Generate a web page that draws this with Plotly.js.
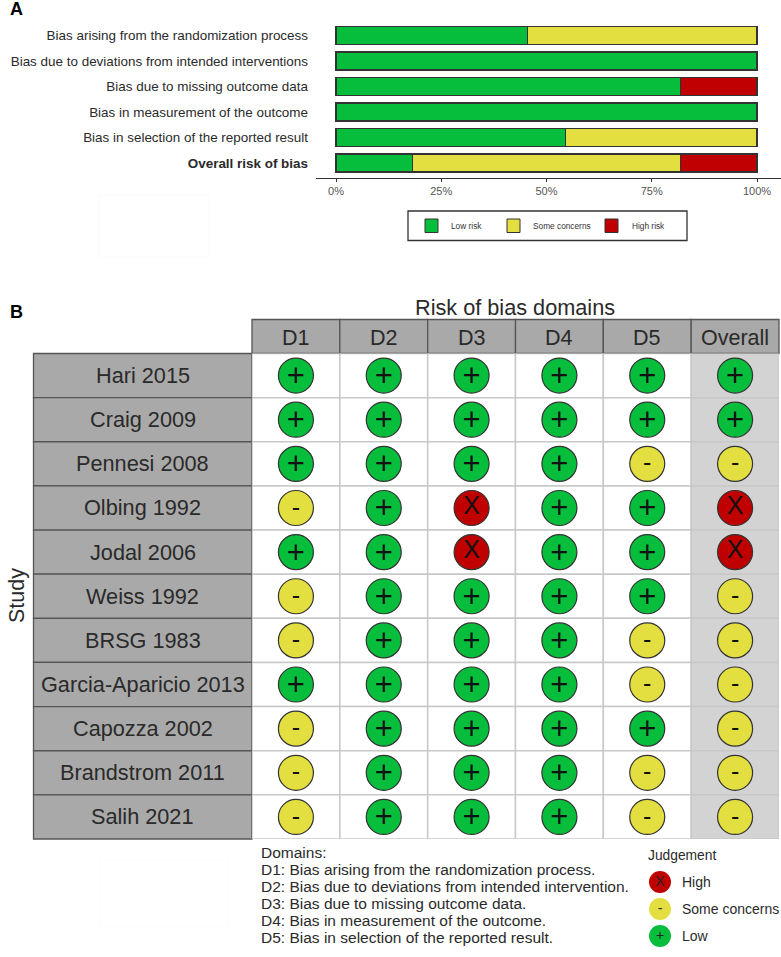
<!DOCTYPE html>
<html>
<head>
<meta charset="utf-8">
<script src="https://cdn.plot.ly/plotly-3.0.1.min.js"></script>
<style>html,body{margin:0;padding:0;background:#fff}#c{width:781px;height:957px}</style>
</head>
<body>
<div id="c"></div>
<script>
const W = 781, H = 957;
const FONT = '"Liberation Sans", Arial, sans-serif';
const GREEN = '#06BE3C', YELLOW = '#E3DF40', RED = '#C00000';

// Panel A data
const domainNames = ['Bias arising from the randomization process','Bias due to deviations from intended interventions','Bias due to missing outcome data','Bias in measurement of the outcome','Bias in selection of the reported result','<b>Overall risk of bias</b>'];
const lowRisk = [45.45, 100, 81.82, 100, 54.55, 18.18];
const someConcerns = [54.55, 0, 0, 0, 45.45, 63.64];
const highRisk = [0, 0, 18.18, 0, 0, 18.18];
const pctTicks = [0, 25, 50, 75, 100];
const pctLabels = ['0%','25%','50%','75%','100%'];

// Panel B data
const studies = ['Hari 2015','Craig 2009','Pennesi 2008','Olbing 1992','Jodal 2006','Weiss 1992','BRSG 1983','Garcia-Aparicio 2013','Capozza 2002','Brandstrom 2011','Salih 2021'];
const columns = ['D1','D2','D3','D4','D5','Overall'];
const D1 = ['+','+','+','-','+','-','-','+','-','-','-'];
const D2 = ['+','+','+','+','+','+','+','+','+','+','+'];
const D3 = ['+','+','+','X','X','+','+','+','+','+','+'];
const D4 = ['+','+','+','+','+','+','+','+','+','+','+'];
const D5 = ['+','+','-','+','+','+','-','-','+','-','-'];
const Overall = ['+','+','-','X','X','-','-','-','-','-','-'];
const domainLines = ['Domains:','D1: Bias arising from the randomization process.','D2: Bias due to deviations from intended intervention.','D3: Bias due to missing outcome data.','D4: Bias in measurement of the outcome.','D5: Bias in selection of the reported result.'];
const judgementLabels = ['High','Some concerns','Low'];
const judgementSymbols = ['X','-','+'];
const riskLabels = ['Low risk','Some concerns','High risk'];

const px = v => v / W, py = v => 1 - v / H;
const colour = s => s === '+' ? GREEN : s === '-' ? YELLOW : RED;
const symbolSize = s => s === '-' ? 25 : s === 'X' ? 25 : 31;
const symbolDy = s => s === '+' ? 0.062 : s === '-' ? 0.03 : 0.0;

const barOpts = (name, vals, col) => ({type:'bar', orientation:'h', name, x:vals, y:domainNames.map((_,i)=>i), width:0.7,
  marker:{color:col, line:{color:'#333', width:1.4}}, xaxis:'x', yaxis:'y', hoverinfo:'x+name', showlegend:false});
const traces = [
  barOpts('Low risk', lowRisk, GREEN),
  barOpts('Some concerns', someConcerns, YELLOW),
  barOpts('High risk', highRisk, RED)
];

const judgementColumns = [D1, D2, D3, D4, D5, Overall];
judgementColumns.forEach((col, c) => {
  traces.push({type:'scatter', mode:'markers', xaxis:'x2', yaxis:'y2', showlegend:false, cliponaxis:false,
    x:col.map(()=>c), y:col.map((_,r)=>r),
    marker:{size:35, color:col.map(colour), line:{color:'#333', width:1.2}},
    hoverinfo:'skip'});
  traces.push({type:'scatter', mode:'text', xaxis:'x2', yaxis:'y2', showlegend:false, cliponaxis:false,
    x:col.map(()=>c), y:col.map((s,r)=>r+symbolDy(s)), text:col,
    textposition:'middle center', textfont:{family:FONT, size:col.map(symbolSize), color:'#111'},
    hoverinfo:'skip'});
});
// Legend markers, placed on an invisible axis pair
traces.push({type:'scatter', mode:'markers', xaxis:'x3', yaxis:'y3', showlegend:false, cliponaxis:false,
  x:judgementSymbols.map(()=>0), y:judgementSymbols.map((_,i)=>i),
  marker:{size:22, color:judgementSymbols.map(colour), line:{width:0}}, hoverinfo:'skip'});
traces.push({type:'scatter', mode:'text', xaxis:'x3', yaxis:'y3', showlegend:false, cliponaxis:false,
  x:judgementSymbols.map(()=>0), y:judgementSymbols.map((s,i)=>i+symbolDy(s)/3), text:judgementSymbols,
  textposition:'middle center', textfont:{family:FONT, size:14, color:'#222'}, hoverinfo:'skip'});

const shapes = [], annotations = [];
const rectPx = (x0,y0,x1,y1,fill,line,w) => shapes.push({type:'rect', xref:'paper', yref:'paper', x0:px(x0), x1:px(x1), y0:py(y0), y1:py(y1), fillcolor:fill, line:{color:line, width:w}, layer:'below'});
const textPx = (x,y,text,size,anchor,col,extra) => annotations.push(Object.assign({xref:'paper', yref:'paper', x:px(anchor==='left'?x-2:x), y:py(y), text, showarrow:false, xanchor:anchor, yanchor:'middle', font:{family:FONT, size, color:col}}, extra||{}));

// Panel B cells, from rows/columns through the axis scales
const colXs = columns.map((_,i)=>i);
judgementColumns.forEach((col, c) => col.forEach((_, r) => {
  shapes.push({type:'rect', xref:'x2', yref:'y2', x0:c-0.5, x1:c+0.5, y0:r-0.5, y1:r+0.5, layer:'below',
    fillcolor: columns[c]==='Overall' ? '#D3D3D3' : '#FFFFFF', line:{color:'#C6CAC6', width:1.5}});
}));
const L = 252, R = 779, T = 353.5, B = 839, ROW = (B-T)/studies.length, HT = 319.5;
// strips
studies.forEach((s,r)=>{
  rectPx(33.5, T+r*ROW, L, T+(r+1)*ROW, '#A9A9A9', '#555', 1.3);
  textPx((33.5+L)/2, T+(r+0.5)*ROW, s, 21.7, 'center', '#2a2a2a');
});
columns.forEach((s,c)=>{
  const cw=(R-L)/columns.length;
  rectPx(L+c*cw, HT, L+(c+1)*cw, T, '#A9A9A9', '#555', 1.3);
  textPx(L+(c+0.5)*cw, (HT+T)/2+1, s, 21.5, 'center', '#2a2a2a');
});
textPx(515, 307, 'Risk of bias domains', 21.7, 'center', '#2a2a2a');
textPx(17, 596, 'Study', 21.5, 'center', '#2a2a2a', {textangle:-90});

// Panel letters
textPx(10, 9, '<b>A</b>', 18, 'left', '#000');
textPx(10, 312, '<b>B</b>', 18, 'left', '#000');

// Panel A legend
rectPx(408, 211, 687, 240.5, '#FFFFFF', '#333', 1.3);
[[425,GREEN,451],[507,YELLOW,533],[605,RED,632]].forEach((k,i)=>{
  rectPx(k[0], 219, k[0]+13, 232.5, k[1], '#333', 1);
  textPx(k[2], 226, riskLabels[i], 8.3, 'left', '#333');
});

// Domains text
domainLines.forEach((t,i)=> textPx(261, 852.5+i*17, t, 15.5, 'left', '#2a2a2a'));
// Judgement legend
textPx(648, 855, 'Judgement', 13.8, 'left', '#2a2a2a');
judgementLabels.forEach((t,i)=> textPx(682, 882+i*27, t, 14, 'left', '#2a2a2a'));

// Faint blank boxes
rectPx(99, 195, 209, 257, 'rgba(0,0,0,0)', '#FAFAFA', 1);
rectPx(100, 860, 228, 927, 'rgba(0,0,0,0)', '#FBFBFB', 1);

const xA0 = 336, xA1 = 757, axL = 316, axR = 781;
const pxPerPct = (xA1-xA0)/100;
const layout = {
  width:W, height:H, margin:{l:0,r:0,t:0,b:0}, paper_bgcolor:'#fff', plot_bgcolor:'rgba(0,0,0,0)',
  font:{family:FONT}, barmode:'stack', showlegend:false, shapes, annotations,
  xaxis:{domain:[px(axL),px(axR)], anchor:'y', range:[(axL-xA0)/pxPerPct,(axR-xA0)/pxPerPct], tickvals:pctTicks, ticktext:pctLabels,
    showgrid:false, zeroline:false, showline:true, linecolor:'#333', linewidth:1.2, ticks:'outside', ticklen:3, tickcolor:'#333',
    tickfont:{family:FONT,size:11,color:'#555'}},
  yaxis:{domain:[py(178),py(22.5)], anchor:'x', range:[5.588,-0.51], tickvals:domainNames.map((_,i)=>i), ticktext:domainNames,
    showgrid:false, zeroline:false, showline:false, ticks:'', ticklen:0, ticklabelstandoff:7, automargin:false,
    tickfont:{family:FONT,size:13.45,color:'#2a2a2a'}},
  xaxis2:{domain:[px(L),px(R)], anchor:'y2', range:[-0.5,5.5], tickvals:colXs, showticklabels:false, showgrid:false, zeroline:false, ticks:''},
  yaxis2:{domain:[py(B),py(T)], anchor:'x2', range:[studies.length-0.5,-0.5], tickvals:studies.map((_,i)=>i), showticklabels:false, showgrid:false, zeroline:false, ticks:''},
  xaxis3:{domain:[px(640),px(680)], anchor:'y3', range:[-0.95,0.95], visible:false},
  yaxis3:{domain:[py(936+13.5),py(882-13.5)], anchor:'x3', range:[2.5,-0.5], visible:false}
};
Plotly.newPlot('c', traces, layout, {displayModeBar:false, staticPlot:true});
</script>
</body>
</html>
